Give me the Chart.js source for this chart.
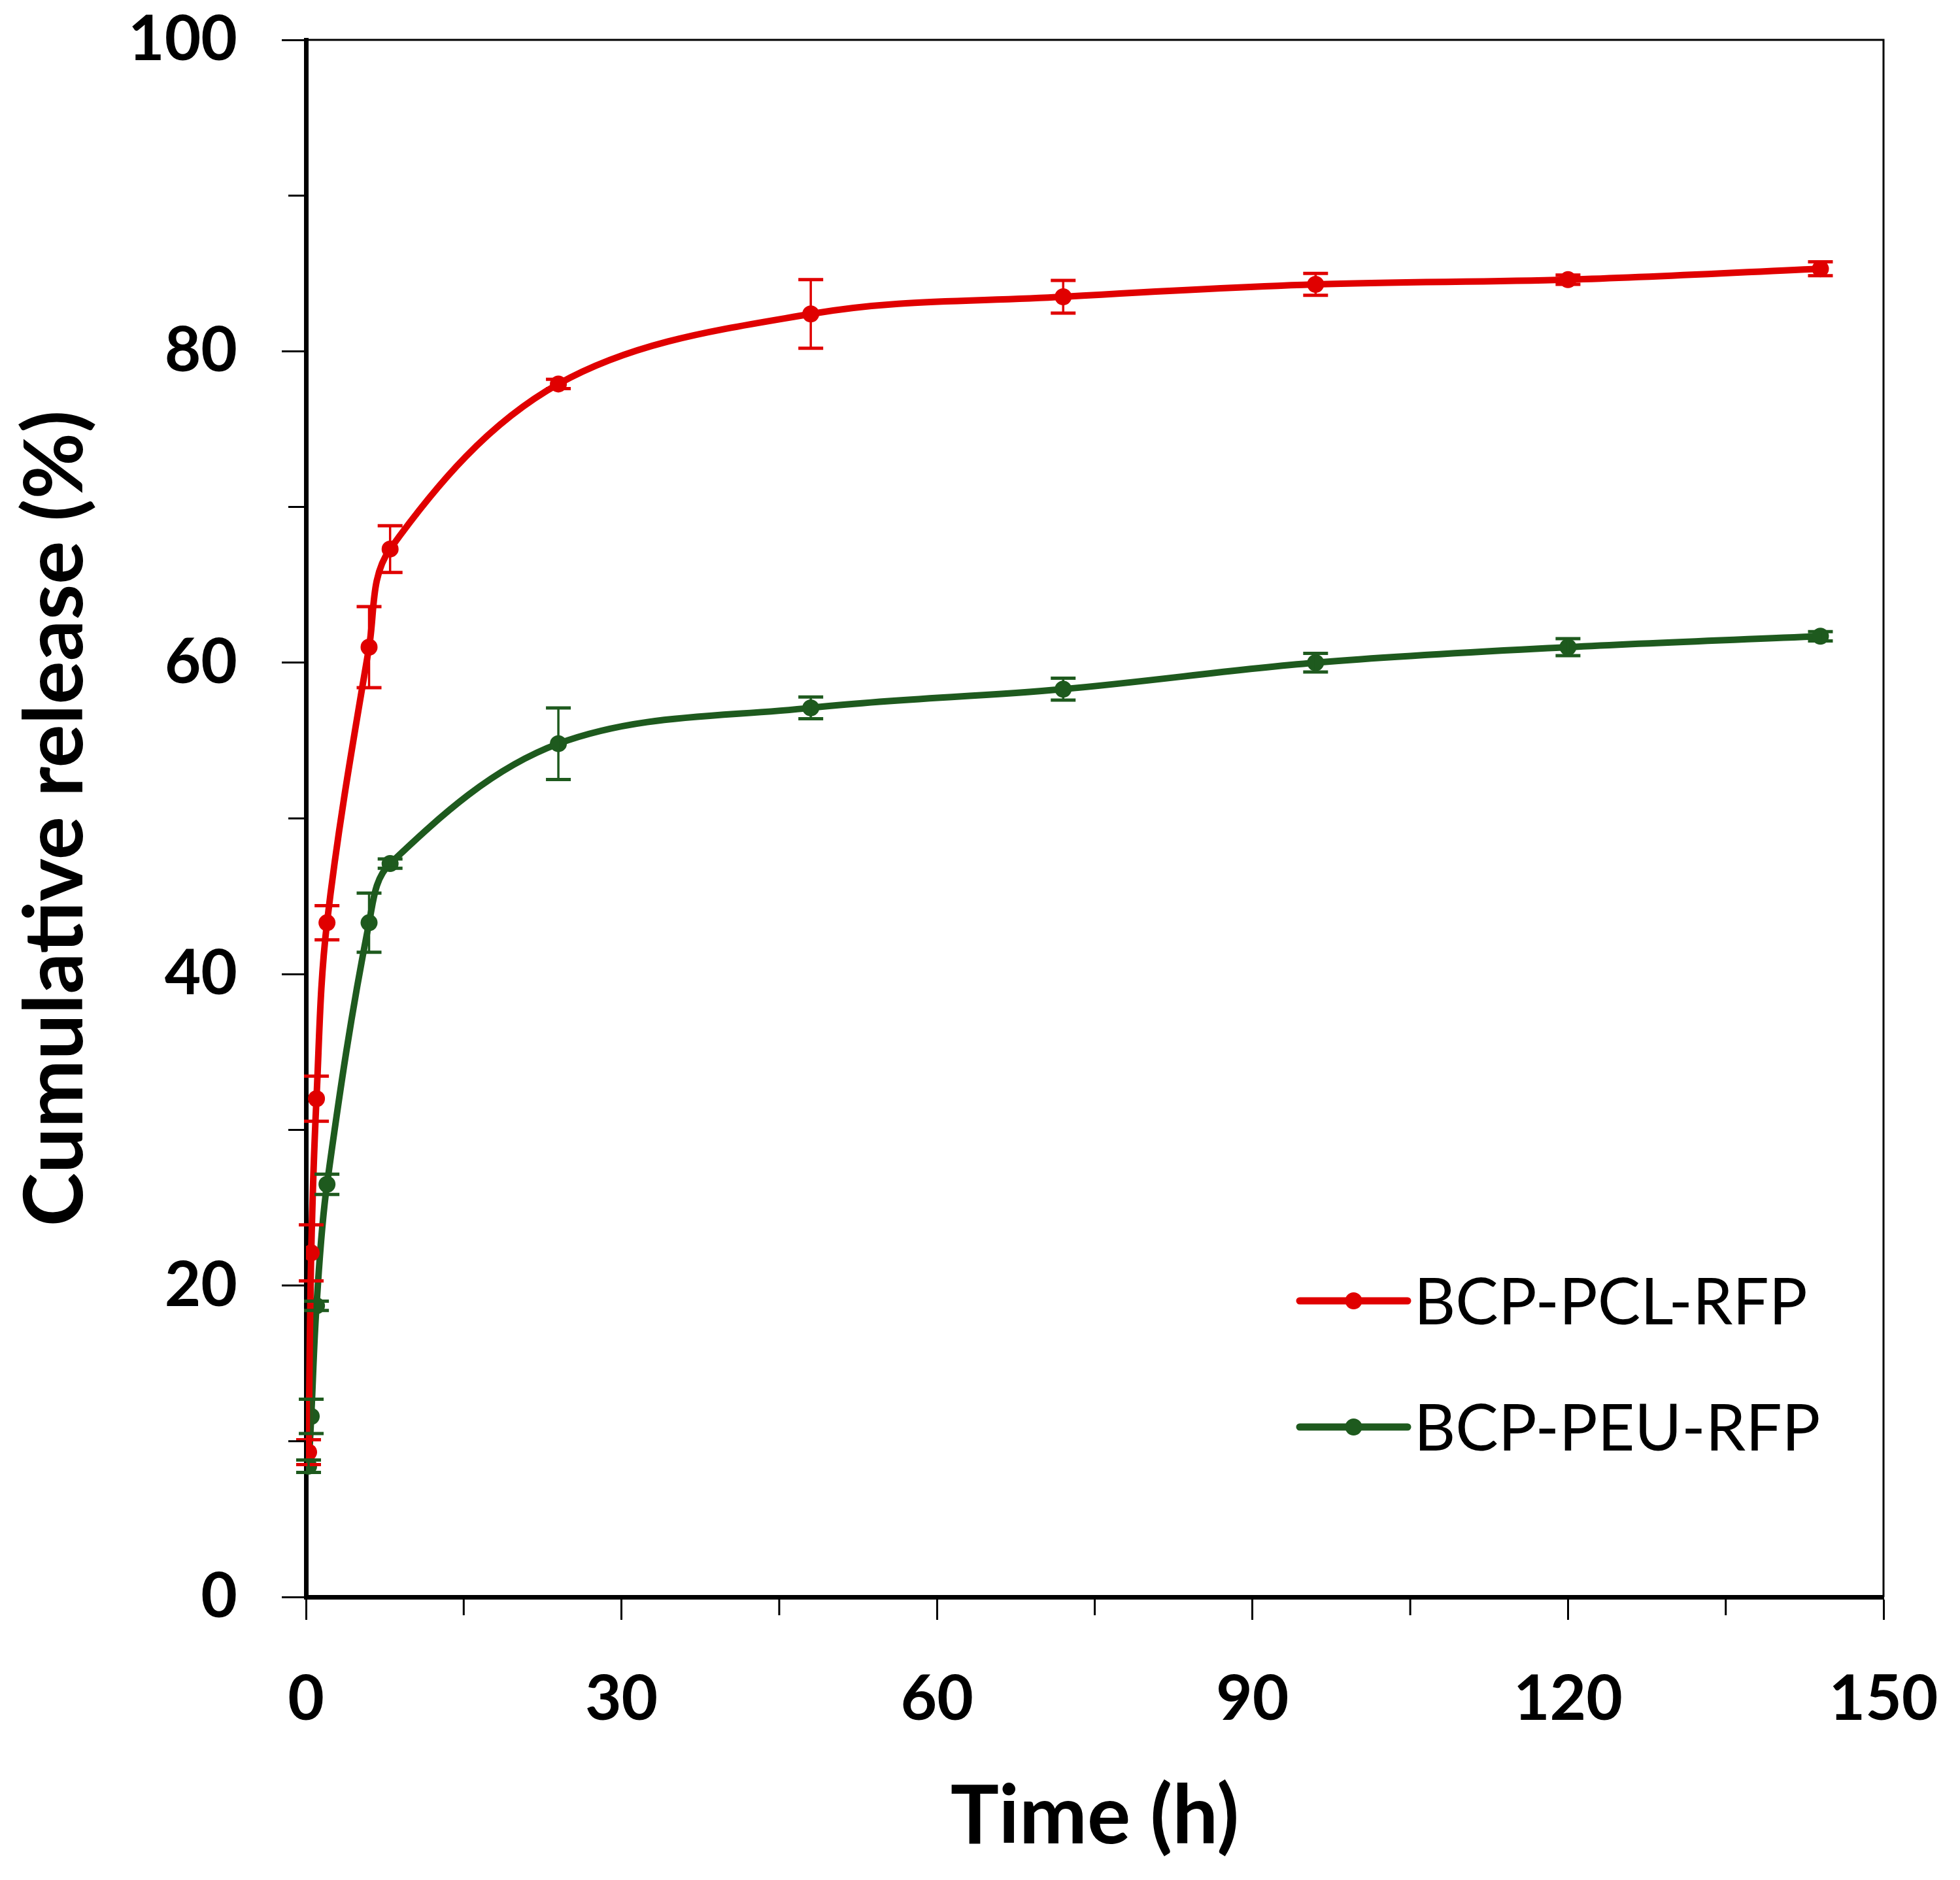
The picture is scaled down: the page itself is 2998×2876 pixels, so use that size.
<!DOCTYPE html>
<html>
<head>
<meta charset="utf-8">
<script src="https://cdn.jsdelivr.net/npm/chart.js@4.4.0/dist/chart.umd.min.js"></script>
<style>
  html, body { margin: 0; padding: 0; background: #fff; }
  canvas { display: block; }
</style>
</head>
<body>
<canvas id="releaseChart" width="2998" height="2876"></canvas>
<script>
// data
const timeHours = [0.25, 0.5, 1, 2, 6, 8, 24, 48, 72, 96, 120, 144];
const pclRelease = [9.3, 22.1, 32.0, 43.3, 61.0, 67.3, 77.9, 82.4, 83.5, 84.3, 84.6, 85.3];
const pclError = [0.8, 1.8, 1.45, 1.1, 2.6, 1.5, 0.3, 2.2, 1.05, 0.7, 0.3, 0.45];
const peuRelease = [8.4, 11.6, 18.7, 26.5, 43.3, 47.1, 54.8, 57.1, 58.3, 60.0, 61.0, 61.7];
const peuError = [0.4, 1.1, 0.3, 0.65, 1.9, 0.3, 2.3, 0.7, 0.7, 0.6, 0.55, 0.3];
const seriesNames = ['BCP-PCL-RFP', 'BCP-PEU-RFP'];
const xTicks = [0, 30, 60, 90, 120, 150];
const yTicks = [0, 20, 40, 60, 80, 100];
const xMinorTicks = [15, 45, 75, 105, 135];
const yMinorTicks = [10, 30, 50, 70, 90];

const red = '#e00000';
const green = '#1e5a1e';
const fontName = 'Lato';

function toPoints(xs, ys) {
    return xs.map((x, i) => ({ x: x, y: ys[i] }));
}

// error bars, minor ticks, top/right frame and the legend
const extrasPlugin = {
    id: 'extras',
    afterDatasetsDraw(chart) {
        const c = chart.ctx;
        const xs = chart.scales.x;
        const ys = chart.scales.y;
        chart.data.datasets.forEach(ds => {
            c.save();
            c.strokeStyle = ds.borderColor;
            ds.data.forEach((p, i) => {
                const err = ds.errors[i];
                const px = xs.getPixelForValue(p.x);
                const top = ys.getPixelForValue(p.y + err);
                const bot = ys.getPixelForValue(p.y - err);
                c.lineWidth = 3.5;
                c.beginPath();
                c.moveTo(px, top);
                c.lineTo(px, bot);
                c.stroke();
                c.lineWidth = 5;
                c.beginPath();
                c.moveTo(px - 19, top);
                c.lineTo(px + 19, top);
                c.moveTo(px - 19, bot);
                c.lineTo(px + 19, bot);
                c.stroke();
            });
            c.restore();
        });
    },
    afterDraw(chart) {
        const c = chart.ctx;
        const area = chart.chartArea;
        const xs = chart.scales.x;
        const ys = chart.scales.y;
        c.save();
        c.strokeStyle = '#000';
        c.lineWidth = 3;
        c.beginPath();
        c.moveTo(area.left, area.top);
        c.lineTo(area.right, area.top);
        c.lineTo(area.right, area.bottom);
        c.stroke();

        c.beginPath();
        yMinorTicks.forEach(v => {
            const py = ys.getPixelForValue(v);
            c.moveTo(area.left - 27, py);
            c.lineTo(area.left, py);
        });
        xMinorTicks.forEach(v => {
            const px = xs.getPixelForValue(v);
            c.moveTo(px, area.bottom);
            c.lineTo(px, area.bottom + 28);
        });
        c.stroke();

        // legend
        const rows = [area.bottom - 453, area.bottom - 260];
        const lineStart = area.right - 893;
        const lineEnd = area.right - 728;
        c.font = '98px ' + fontName;
        c.textBaseline = 'middle';
        c.textAlign = 'left';
        chart.data.datasets.forEach((ds, i) => {
            const ly = rows[i];
            c.strokeStyle = ds.borderColor;
            c.fillStyle = ds.borderColor;
            c.lineWidth = 11;
            c.lineCap = 'round';
            c.beginPath();
            c.moveTo(lineStart, ly);
            c.lineTo(lineEnd, ly);
            c.stroke();
            c.beginPath();
            c.arc((lineStart + lineEnd) / 2, ly, 13, 0, Math.PI * 2);
            c.fill();
            c.fillStyle = '#000';
            c.fillText(ds.label, area.right - 718, ly + 4);
        });
        c.restore();
    }
};

function drawChart() {
    const ctx = document.getElementById('releaseChart').getContext('2d');
    const tickFont = { family: fontName, size: 96, weight: 'bold' };
    const titleFont = { family: fontName, size: 124, weight: 'bold' };

    new Chart(ctx, {
        type: 'line',
        data: {
            datasets: [{
                label: seriesNames[0],
                data: toPoints(timeHours, pclRelease),
                errors: pclError,
                borderColor: red,
                backgroundColor: red
            }, {
                label: seriesNames[1],
                data: toPoints(timeHours, peuRelease),
                errors: peuError,
                borderColor: green,
                backgroundColor: green
            }]
        },
        options: {
            responsive: false,
            animation: false,
            devicePixelRatio: 1,
            layout: { padding: { top: 61, right: 117, left: 0, bottom: 0 } },
            elements: {
                line: { tension: 0.35, borderWidth: 10, fill: false },
                point: { radius: 13, borderWidth: 0 }
            },
            plugins: {
                legend: { display: false },
                tooltip: { enabled: false }
            },
            scales: {
                x: {
                    type: 'linear',
                    min: xTicks[0],
                    max: xTicks[xTicks.length - 1],
                    afterBuildTicks: scale => { scale.ticks = xTicks.map(v => ({ value: v })); },
                    afterFit: scale => {
                        scale.height = 433;
                        scale.paddingLeft = 0;
                        scale.paddingRight = 0;
                    },
                    border: { display: true, color: '#000', width: 7 },
                    grid: { display: true, drawOnChartArea: false, drawTicks: true, tickLength: 35, tickWidth: 3, tickColor: '#000' },
                    ticks: { font: tickFont, color: '#000', padding: 64, maxRotation: 0, autoSkip: false },
                    title: { display: true, text: 'Time (h)', font: titleFont, color: '#000', padding: { top: 0, bottom: 22 } }
                },
                y: {
                    type: 'linear',
                    min: yTicks[0],
                    max: yTicks[yTicks.length - 1],
                    afterBuildTicks: scale => { scale.ticks = yTicks.map(v => ({ value: v })); },
                    afterFit: scale => {
                        scale.width = 468;
                        scale.paddingTop = 0;
                        scale.paddingBottom = 0;
                    },
                    border: { display: true, color: '#000', width: 7 },
                    grid: { display: true, drawOnChartArea: false, drawTicks: true, tickLength: 37, tickWidth: 3, tickColor: '#000' },
                    ticks: { font: tickFont, color: '#000', padding: 68, autoSkip: false },
                    title: { display: true, text: 'Cumulative release (%)', font: titleFont, color: '#000', padding: { top: 12, bottom: 0 } }
                }
            }
        },
        plugins: [extrasPlugin]
    });
}

document.fonts.load('bold 96px ' + fontName).then(drawChart, drawChart);
</script>
</body>
</html>
